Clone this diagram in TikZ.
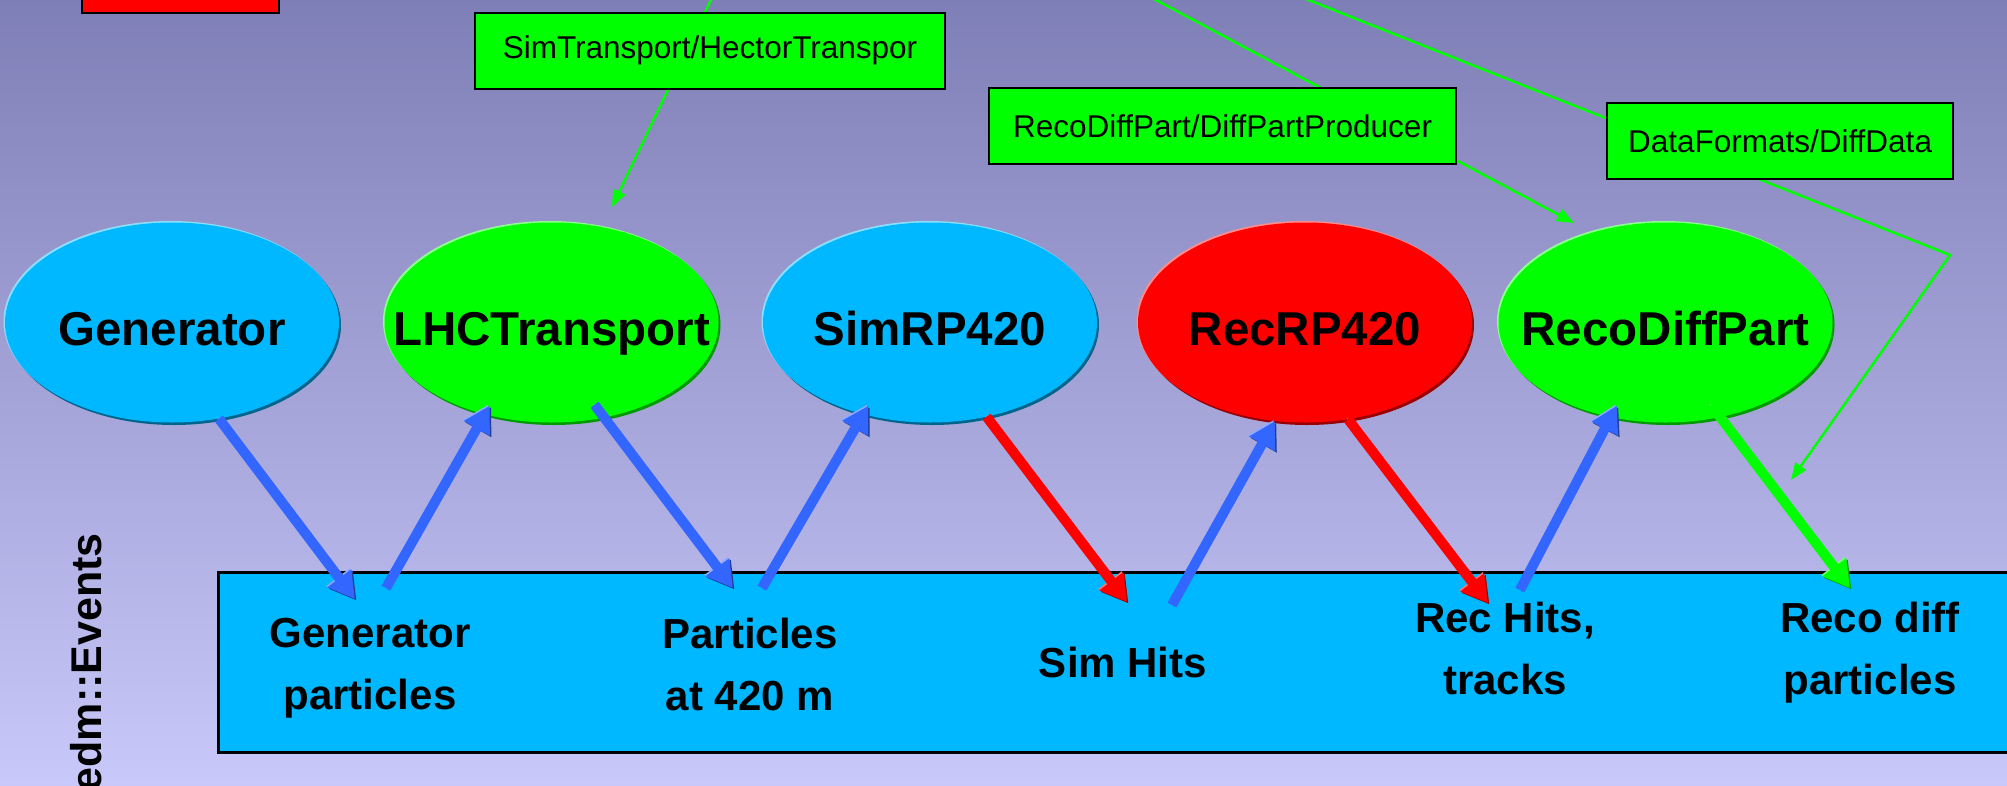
\documentclass[tikz,border=0pt]{standalone}
\usepackage{fontspec}
\setmainfont{Liberation Sans}
\usetikzlibrary{shapes.geometric,arrows.meta,shadows}

\definecolor{bgtop}{RGB}{127,127,183}
\definecolor{bgbot}{RGB}{200,200,250}
\definecolor{evblue}{RGB}{0,184,255}
\definecolor{arrblue}{RGB}{51,102,255}
\definecolor{lime}{RGB}{0,255,0}

\begin{document}
\begin{tikzpicture}[x=1pt,y=-1pt]
			\tikzstyle{proc}=[ellipse,minimum width=334pt,minimum height=200pt,inner xsep=-60pt,
				text height=45pt,text depth=0pt,font=\fontsize{47.5}{57}\selectfont\bfseries]
			\tikzstyle{pblue}=[proc,fill=evblue,
				general shadow={fill=evblue!55!black,shadow xshift=2pt,shadow yshift=-2.5pt},
				general shadow={fill=evblue!45!white,shadow xshift=-1.5pt,shadow yshift=1.5pt}]
			\tikzstyle{pgreen}=[proc,fill=lime,
				general shadow={fill=lime!60!black,shadow xshift=2pt,shadow yshift=-2.5pt},
				general shadow={fill=lime!45!white,shadow xshift=-1.5pt,shadow yshift=1.5pt}]
			\tikzstyle{pred}=[proc,fill=red,
				general shadow={fill=red!60!black,shadow xshift=2pt,shadow yshift=-2.5pt},
				general shadow={fill=red!45!white,shadow xshift=-1.5pt,shadow yshift=1.5pt}]
			\tikzstyle{pkg}=[draw=black,line width=2pt,fill=lime,minimum height=76pt,
				font=\fontsize{31.5}{38}\selectfont]
			\tikzstyle{evbox}=[draw=black,line width=3pt,fill=evblue,minimum height=180pt]
			\tikzstyle{evtxt}=[align=center,font=\fontsize{42}{62}\selectfont\bfseries]
			\tikzstyle{call}=[draw=lime,line width=2.5pt,-{Triangle[width=13pt,length=17pt]}]
			\tikzstyle{flow}=[line width=10pt,-{Triangle[width=28pt,length=26pt]}]
			\tikzstyle{fblue}=[flow,draw=arrblue,
				preaction={draw=arrblue!60!black,transform canvas={shift={(1.5pt,-1.5pt)}}},
				preaction={draw=arrblue!55!white,transform canvas={shift={(-1.2pt,1.2pt)}}}]
			\tikzstyle{fred}=[flow,draw=red,
				preaction={draw=red!65!black,transform canvas={shift={(1.5pt,-1.5pt)}}},
				preaction={draw=red!55!white,transform canvas={shift={(-1.2pt,1.2pt)}}}]
			\tikzstyle{fgreen}=[flow,draw=lime,
				preaction={draw=lime!65!black,transform canvas={shift={(1.5pt,-1.5pt)}}},
				preaction={draw=lime!55!white,transform canvas={shift={(-1.2pt,1.2pt)}}}]

			\useasboundingbox (0,0) rectangle (2007,785);
			\clip (0,0) rectangle (2007,785);
			\shade[top color=bgtop,bottom color=bgbot] (0,0) rectangle (2007,785);

			\node[draw=black,line width=2pt,fill=red,minimum width=197pt,minimum height=53pt] (legend) at (180.5,-13.5) {};

			% package callouts
			\coordinate (hecFar)   at (730,-40);
			\coordinate (hecTip)   at (612,207);
			\coordinate (diffFar)  at (1081,-40);
			\coordinate (diffTip)  at (1574,223);
			\coordinate (dataFar)  at (1208,-40);
			\coordinate (dataBend) at (1950,255);
			\coordinate (dataTip)  at (1791,480);
			\draw[call] (hecFar) -- (hecTip);
			\draw[call] (diffFar) -- (diffTip);
			\draw[call] (dataFar) -- (dataBend) -- (dataTip);

			\node[pkg,minimum width=470pt] (hector)   at (710,50.5)  {SimTransport/HectorTranspor};
			\node[pkg,minimum width=467pt] (diffprod) at (1222.5,126) {RecoDiffPart/DiffPartProducer};
			\node[pkg,minimum width=346pt] (diffdata) at (1780,141)   {DataFormats/DiffData};

			% modules
			\begin{scope}
			\node[pblue]  (gen)  at (172,322.5)    {Generator};
			\node[pgreen] (lhc)  at (551.5,322.5)  {LHCTransport};
			\node[pblue]  (sim)  at (930,322.5)    {SimRP420};
			\node[pred]   (rec)  at (1305,322.5)   {RecRP420};
			\node[pgreen] (reco) at (1665.5,322.5) {RecoDiffPart};
			\end{scope}

			% event content
			\node[evbox,minimum width=1842pt] (events) at (1139,662) {};
			\node[evtxt] (genp)    at (370,668)    {Generator\\particles};
			\node[evtxt] (p420)    at (750,664)    {Particles\\at 420 m};
			\node[evtxt,anchor=base] (simhits) at (1123,677) {Sim Hits};
			\node[evtxt] (rechits) at (1505,648.5) {Rec Hits,\\tracks};
			\node[evtxt] (recop)   at (1870,652.6) {Reco diff\\particles};
			\node[rotate=90,anchor=base east,inner sep=0pt,font=\fontsize{43}{50}\selectfont\bfseries] (edm) at (101,533) {edm::Events};

			\coordinate (gIn)  at (355,599);
			\coordinate (gOut) at (386,588);
			\coordinate (pIn)  at (733,588);
			\coordinate (pOut) at (762,588);
			\coordinate (sIn)  at (1127,602);
			\coordinate (sOut) at (1172,605);
			\coordinate (rIn)  at (1488,603);
			\coordinate (rOut) at (1520,590);
			\coordinate (dIn)  at (1850,588);

			\path
			(gen.-64)  edge[fblue] (gIn)
			(gOut)     edge[fblue,shorten >=-10pt] (lhc.-126)
			(lhc.-61)  edge[fblue,shorten <=-16pt] (pIn)
			(pOut)     edge[fblue,shorten >=-10pt] (sim.-126)
			(sim.-59)  edge[fred] (sIn)
			(sOut)     edge[fblue] (rec.-107)
			(rec.-66)  edge[fred] (rIn)
			(rOut)     edge[fblue,shorten >=-13pt] (reco.-120)
			(reco.-60) edge[fgreen,shorten <=-15pt] (dIn)
			;
\end{tikzpicture}
\end{document}
